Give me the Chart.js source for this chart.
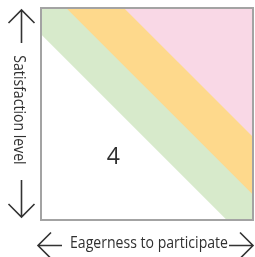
<!DOCTYPE html>
<html><head><meta charset="utf-8">
<script src="https://cdn.jsdelivr.net/npm/chart.js@4"></script>
<style>html,body{margin:0;padding:0;background:#fff;overflow:hidden}#wrap{width:255px;height:257px;position:relative}</style>
</head><body><div id="wrap"><canvas id="c"></canvas></div>
<script>
// ---- data ----
const bandNames = ['Green zone', 'Yellow zone', 'Pink zone'];
const bandBounds = [87.5, 112, 139.5];      // thresholds of (x + y) where bands begin
const bandColors = ['#d7eacb', '#fed98c', '#f9d8e6'];
const regionLabels = ['4'];
const regionLabelX = [34];
const regionLabelY = [26];
const xTitle = 'Eagerness to participate';
const yTitle = 'Satisfaction level';
const axisMin = 0, axisMax = 100;

// region {x + y <= c} clipped to the square
function lowerRegion(c) {
  if (c <= axisMax) return [{x:axisMin,y:axisMin},{x:c,y:axisMin},{x:axisMin,y:c}];
  const k = Math.min(c - axisMax, axisMax);
  return [{x:axisMin,y:axisMin},{x:axisMax,y:axisMin},{x:axisMax,y:k},{x:k,y:axisMax},{x:axisMin,y:axisMax}];
}

const layers = [];
// white region under the first band
layers.push({label:'base', data: lowerRegion(bandBounds[0]), backgroundColor:'#ffffff', order: 1});
for (let i = 0; i < bandBounds.length; i++) {
  const next = i + 1 < bandBounds.length ? bandBounds[i + 1] : Infinity;
  layers.push({label: bandNames[i], data: lowerRegion(next), backgroundColor: bandColors[i], order: i + 2});
}
const datasets = layers.map(l => ({
  label: l.label, data: l.data, backgroundColor: l.backgroundColor, order: l.order,
  fill: 'shape', borderWidth: 0, borderColor: 'rgba(0,0,0,0)', pointRadius: 0, tension: 0
}));

const FONT = '"Open Sans", "Noto Sans", sans-serif';
const TXT = '#303030';

function arrow(ctx, tx, ty, dx, dy, len, head) {
  // tip at (tx,ty), pointing in direction (dx,dy)
  const bx = tx - dx * len, by = ty - dy * len;
  ctx.beginPath();
  ctx.moveTo(bx, by); ctx.lineTo(tx, ty);
  const px = -dy, py = dx;
  ctx.moveTo(tx - dx * head + px * head, ty - dy * head + py * head);
  ctx.lineTo(tx, ty);
  ctx.lineTo(tx - dx * head - px * head, ty - dy * head - py * head);
  ctx.stroke();
}

const decor = {
  id: 'decor',
  afterDatasetsDraw(chart) {
    const {ctx, chartArea: a, scales} = chart;
    ctx.save();
    // frame
    ctx.strokeStyle = '#a3a3a3';
    ctx.lineWidth = 2;
    ctx.strokeRect(a.left - 1, a.top - 1, a.right - a.left + 2, a.bottom - a.top + 2);
    // region label
    ctx.fillStyle = TXT;
    ctx.font = '23px ' + FONT;
    ctx.textAlign = 'center';
    ctx.textBaseline = 'alphabetic';
    regionLabels.forEach((t, i) => {
      ctx.fillText(t, scales.x.getPixelForValue(regionLabelX[i]), scales.y.getPixelForValue(regionLabelY[i]));
    });
    // titles
    ctx.font = '16px ' + FONT;
    const w = ctx.measureText(xTitle).width;
    const sx = 158 / w;
    const cx = (a.left + a.right) / 2 + 2;
    ctx.save();
    ctx.translate(cx, a.bottom + 29);
    ctx.scale(sx, 1);
    ctx.fillText(xTitle, 0, 0);
    ctx.restore();
    ctx.save();
    ctx.translate(a.left - 28, (a.top + a.bottom) / 2 - 4);
    ctx.rotate(Math.PI / 2);
    ctx.scale(sx, 1);
    ctx.fillText(yTitle, 0, 0);
    ctx.restore();
    // arrows
    ctx.strokeStyle = '#333333';
    ctx.lineWidth = 1.6;
    const ax = a.left - 20.5;
    arrow(ctx, ax, a.top + 1, 0, -1, 33, 13);
    arrow(ctx, ax, a.bottom - 2, 0, 1, 37, 13);
    const ay = a.bottom + 26.5;
    arrow(ctx, a.left - 4, ay, -1, 0, 24, 13);
    arrow(ctx, a.right + 1, ay, 1, 0, 24, 13);
    ctx.restore();
  }
};

new Chart(document.getElementById('c'), {
  type: 'line',
  data: { datasets },
  options: {
    responsive: true, maintainAspectRatio: false, animation: false, events: [],
    layout: { padding: { left: 42, top: 9, right: 3, bottom: 38 } },
    scales: {
      x: { type: 'linear', min: axisMin, max: axisMax, display: false },
      y: { type: 'linear', min: axisMin, max: axisMax, display: false }
    },
    plugins: { legend: { display: false }, tooltip: { enabled: false } }
  },
  plugins: [decor]
});
</script>
</body></html>
